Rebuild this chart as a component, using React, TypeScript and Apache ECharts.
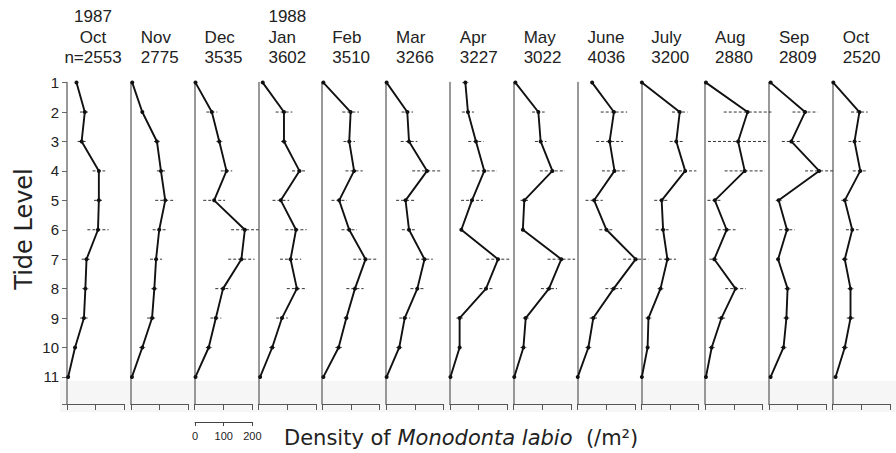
import React, { useEffect, useRef } from "react";
import * as echarts from "echarts";

// ---------- data ----------
const levels = [1, 2, 3, 4, 5, 6, 7, 8, 9, 10, 11];
const years = ["1987", "", "", "1988", "", "", "", "", "", "", "", "", ""];
const months = ["Oct", "Nov", "Dec", "Jan", "Feb", "Mar", "Apr", "May", "June", "July", "Aug", "Sep", "Oct"];
const sampleSizes = ["n=2553", "2775", "3535", "3602", "3510", "3266", "3227", "3022", "4036", "3200", "2880", "2809", "2520"];

const octDensity87 = [33, 62, 51, 111, 111, 108, 68, 64, 59, 28, 4];
const novDensity = [5, 40, 91, 105, 120, 99, 88, 82, 74, 40, 4];
const decDensity = [3, 60, 86, 111, 68, 175, 163, 99, 74, 49, 3];
const janDensity = [15, 89, 89, 143, 78, 131, 112, 134, 82, 48, 6];
const febDensity = [4, 99, 94, 111, 59, 94, 151, 114, 84, 57, 4];
const marDensity = [2, 74, 80, 143, 68, 80, 134, 109, 65, 46, 2];
const aprDensity = [54, 63, 91, 120, 77, 40, 168, 126, 34, 34, 2];
const mayDensity = [6, 86, 94, 135, 37, 32, 166, 123, 42, 34, 2];
const junDensity = [51, 127, 112, 129, 58, 101, 203, 126, 55, 38, 1];
const julDensity = [2, 134, 122, 153, 71, 76, 91, 67, 25, 22, 2];
const augDensity = [3, 148, 115, 138, 34, 75, 32, 106, 57, 23, 3];
const sepDensity = [6, 126, 78, 175, 34, 63, 32, 65, 61, 51, 6];
const octDensity88 = [2, 93, 76, 96, 42, 68, 42, 62, 62, 42, 10];

const octErr87 = [0, 17, 14, 22, 17, 37, 17, 10, 13, 7, 0];
const novErr = [0, 5, 10, 14, 35, 23, 21, 10, 17, 10, 0];
const decErr = [0, 19, 10, 20, 38, 48, 46, 27, 19, 10, 0];
const janErr = [0, 29, 10, 26, 29, 37, 37, 35, 20, 10, 0];
const febErr = [0, 29, 20, 30, 27, 27, 43, 30, 9, 11, 0];
const marErr = [0, 20, 29, 52, 33, 25, 29, 24, 19, 10, 0];
const aprErr = [10, 21, 27, 44, 38, 5, 41, 23, 11, 0, 0];
const mayErr = [0, 22, 20, 44, 13, 5, 48, 28, 10, 10, 0];
const junErr = [0, 46, 47, 44, 30, 25, 44, 29, 13, 10, 0];
const julErr = [0, 27, 23, 39, 26, 26, 30, 10, 10, 0, 0];
const augErr = [0, 83, 105, 70, 26, 31, 17, 36, 13, 10, 0];
const sepErr = [0, 44, 33, 49, 10, 27, 5, 10, 10, 10, 0];
const octErr88 = [0, 29, 21, 26, 12, 22, 10, 10, 13, 10, 0];

const densities = [octDensity87, novDensity, decDensity, janDensity, febDensity, marDensity, aprDensity, mayDensity, junDensity, julDensity, augDensity, sepDensity, octDensity88];
const errors = [octErr87, novErr, decErr, janErr, febErr, marErr, aprErr, mayErr, junErr, julErr, augErr, sepErr, octErr88];
const scaleTicks = [0, 100, 200];

// ---------- layout ----------
const FIRST_LEFT = 67;
const STEP = 63.81;
const PANEL_W = 57.4;
const TOP = 82.6;
const BOTTOM = 404;
const Y_MIN = 1;
const Y_MAX = 11.92;
const X_MAX = 200;
const TEXT = "#222";

function buildOption() {
  const grid: any[] = [];
  const xAxis: any[] = [];
  const yAxis: any[] = [];
  const series: any[] = [];
  const graphic: any[] = [];

  graphic.push({
    type: "rect",
    z: -10,
    shape: { x: 60, y: 381, width: 836, height: 31 },
    style: { fill: "#f6f6f6" },
  });

  densities.forEach((dens, i) => {
    const left = FIRST_LEFT + i * STEP;
    grid.push({ left, top: TOP, width: PANEL_W, height: BOTTOM - TOP });
    xAxis.push({
      type: "value",
      gridIndex: i,
      min: 0,
      max: X_MAX,
      interval: 100,
      position: "bottom",
      axisLine: { show: true, lineStyle: { color: "#555", width: 1 } },
      axisTick: { show: true, inside: false, length: 6, lineStyle: { color: "#555" } },
      axisLabel: { show: false },
      splitLine: { show: false },
    });
    yAxis.push({
      type: "value",
      gridIndex: i,
      inverse: true,
      min: Y_MIN,
      max: Y_MAX,
      interval: 1,
      axisLine: { show: true, onZero: false, lineStyle: { color: "#777", width: 1.5 } },
      axisTick: { show: i === 0, length: 5, lineStyle: { color: "#666" } },
      axisLabel: {
        show: i === 0,
        margin: 8,
        fontSize: 15,
        fontFamily: "Liberation Sans",
        color: TEXT,
        formatter: (v: number) => (levels.indexOf(v) >= 0 ? String(v) : ""),
      },
      splitLine: { show: false },
    });
    series.push({
      type: "custom",
      xAxisIndex: i,
      yAxisIndex: i,
      clip: false,
      data: levels.map((l, j) => [dens[j], l, errors[i][j]]),
      encode: { x: 0, y: 1 },
      renderItem: (params: any, api: any) => {
        const v = api.value(0);
        const y = api.value(1);
        const e = api.value(2);
        if (!e) return { type: "group", children: [] };
        const p1 = api.coord([v - e, y]);
        const p2 = api.coord([v + e, y]);
        return {
          type: "line",
          shape: { x1: p1[0], y1: p1[1], x2: p2[0], y2: p2[1] },
          style: { stroke: "#333", lineWidth: 1, lineDash: [3, 2] },
        };
      },
      z: 1,
    });
    series.push({
      type: "line",
      xAxisIndex: i,
      yAxisIndex: i,
      clip: false,
      data: levels.map((l, j) => [dens[j], l]),
      symbol: "circle",
      symbolSize: 4,
      itemStyle: { color: "#111" },
      lineStyle: { color: "#111", width: 1.9 },
      z: 3,
    });

    const center = i === 0;
    const tx = center ? left + 26 : left + 10;
    const align = center ? "center" : "left";
    const rows = [
      [years[i], 16],
      [months[i], 37],
      [sampleSizes[i], 57],
    ];
    rows.forEach(([t, y]) => {
      if (!t) return;
      graphic.push({
        type: "text",
        x: tx,
        y: y as number,
        style: {
          text: t,
          fontSize: 17,
          fontFamily: "Liberation Sans",
          fill: TEXT,
          textAlign: align,
          textVerticalAlign: "middle",
        },
      });
    });
  });

  // scale bar
  const sb = densities.length;
  grid.push({ left: 195, top: 421, width: PANEL_W, height: 1 });
  xAxis.push({
    type: "value",
    gridIndex: sb,
    min: scaleTicks[0],
    max: scaleTicks[scaleTicks.length - 1],
    interval: 100,
    position: "bottom",
    axisLine: { show: true, lineStyle: { color: "#444", width: 1 } },
    axisTick: { show: true, inside: false, length: 4, lineStyle: { color: "#444" } },
    axisLabel: {
      show: true,
      margin: 8,
      fontSize: 11,
      fontFamily: "Liberation Sans",
      color: TEXT,
      showMaxLabel: true,
      showMinLabel: true,
    },
    splitLine: { show: false },
  });
  yAxis.push({
    type: "value",
    gridIndex: sb,
    min: 0,
    max: 1,
    show: false,
  });

  graphic.push({
    type: "text",
    x: 24,
    y: 229,
    rotation: Math.PI / 2,
    style: {
      text: "Tide Level",
      fontSize: 24,
      fontFamily: "DejaVu Sans",
      fill: TEXT,
      textAlign: "center",
      textVerticalAlign: "middle",
    },
  });
  graphic.push({
    type: "text",
    x: 284,
    y: 438,
    style: {
      text: "Density of {i|Monodonta labio}  (/m²)",
      fontSize: 21,
      fontFamily: "DejaVu Sans",
      fill: TEXT,
      textAlign: "left",
      textVerticalAlign: "middle",
      rich: {
        i: { fontStyle: "italic", fontSize: 21, fontFamily: "DejaVu Sans", fill: TEXT },
      },
    },
  });

  return {
    animation: false,
    backgroundColor: "#ffffff",
    grid,
    xAxis,
    yAxis,
    series,
    graphic,
  };
}

export default function App() {
  const ref = useRef<HTMLDivElement>(null);
  useEffect(() => {
    if (!ref.current) return;
    const chart = echarts.init(ref.current, undefined, { renderer: "svg" });
    chart.setOption(buildOption() as any);
    return () => chart.dispose();
  }, []);
  return (
    <div
      ref={ref}
      style={{ position: "absolute", left: 0, top: 0, width: 896, height: 453 }}
    />
  );
}
